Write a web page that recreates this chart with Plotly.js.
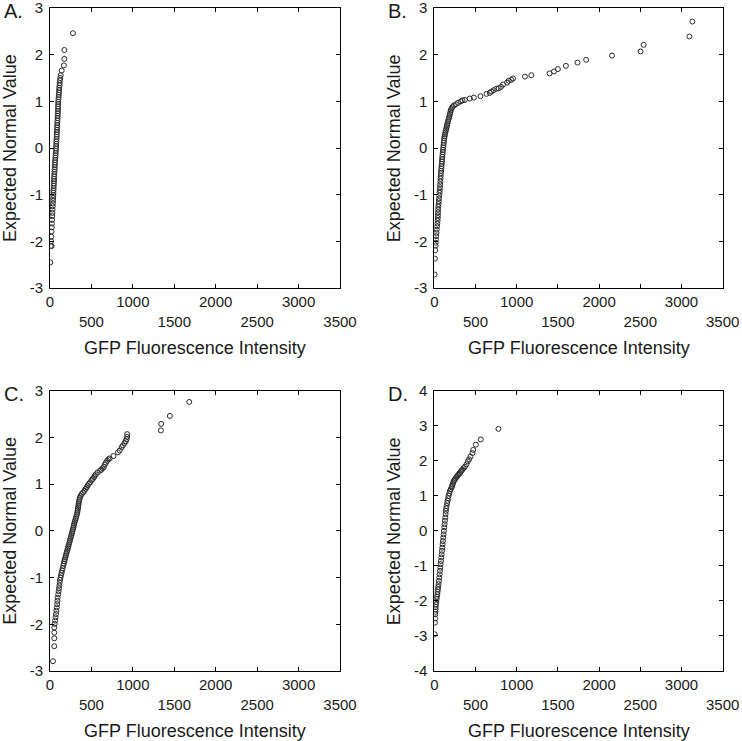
<!DOCTYPE html>
<html>
<head>
<meta charset="utf-8">
<script src="https://cdn.plot.ly/plotly-3.0.1.min.js"></script>
<style>html,body{margin:0;padding:0;background:#fff;}#chart{width:742px;height:741px;}</style>
</head>
<body>
<div id="chart"></div>
<script>
// ---- data ----
var panelLabels = ["A.", "B.", "C.", "D."];
var xTitle = "GFP Fluorescence Intensity";
var yTitle = "Expected Normal Value";
var xTickVals = [0, 500, 1000, 1500, 2000, 2500, 3000, 3500];
var xTickText = ["0", "<br>500", "1000", "<br>1500", "2000", "<br>2500", "3000", "<br>3500"];
var yTicksABC = [-3, -2, -1, 0, 1, 2, 3];
var yTicksD = [-4, -3, -2, -1, 0, 1, 2, 3, 4];

var aX = [277,173,173,167,141,129,124,120,117,115,112,110,108,106,104,102,100,99,98,97,96,94,93,92,90,89,88,86,85,83,82,80,79,77,76,74,73,71,69,67,65,63,61,59,57,56,54,53,51,50,48,47,45,44,42,41,40,38,37,35,33,31,29,27,25,23,21,19,16,13,8,20,4];
var aY = [2.46,2.1,1.91,1.77,1.66,1.56,1.5,1.45,1.39,1.34,1.29,1.24,1.19,1.14,1.09,1.04,0.99,0.94,0.89,0.84,0.79,0.74,0.69,0.64,0.59,0.54,0.49,0.44,0.39,0.34,0.29,0.24,0.19,0.14,0.09,0.04,-0.01,-0.06,-0.11,-0.16,-0.21,-0.26,-0.31,-0.36,-0.41,-0.46,-0.51,-0.56,-0.61,-0.66,-0.71,-0.76,-0.81,-0.86,-0.91,-0.96,-1.01,-1.07,-1.13,-1.19,-1.25,-1.32,-1.39,-1.46,-1.54,-1.62,-1.7,-1.79,-1.9,-2.0,-2.1,-2.1,-2.45];

var bX = [3132,3096,2540,2503,2157,1843,1738,1597,1500,1452,1399,1178,1100,955,935,903,883,834,810,782,754,721,693,673,633,560,480,431,371,342,322,290,262,238,222,210,200,195,190,184,178,172,166,160,155,150,145,140,134,129,125,121,118,115,112,109,106,103,100,97,95,93,90,88,85,83,80,78,76,74,71,69,66,64,61,58,55,52,49,47,45,44,42,40,37,34,30,26,22,20,17,15,12,8,4];
var bY = [2.71,2.39,2.21,2.07,1.98,1.89,1.83,1.76,1.69,1.64,1.6,1.56,1.53,1.49,1.46,1.44,1.4,1.36,1.31,1.28,1.27,1.24,1.21,1.18,1.16,1.11,1.08,1.06,1.03,1.02,1.0,0.97,0.94,0.91,0.88,0.85,0.81,0.77,0.73,0.69,0.65,0.61,0.57,0.53,0.49,0.45,0.41,0.37,0.33,0.29,0.25,0.21,0.16,0.11,0.06,0.01,-0.04,-0.09,-0.14,-0.19,-0.24,-0.29,-0.34,-0.39,-0.44,-0.49,-0.54,-0.6,-0.66,-0.72,-0.78,-0.84,-0.9,-0.96,-1.02,-1.08,-1.14,-1.2,-1.26,-1.32,-1.38,-1.44,-1.5,-1.56,-1.62,-1.68,-1.75,-1.82,-1.89,-1.96,-2.03,-2.09,-2.19,-2.37,-2.71];

var cX = [1681,1447,1342,1338,931,931,925,915,900,880,865,840,820,766,720,705,690,675,662,650,635,620,605,575,552,540,532,515,500,485,470,455,443,430,415,400,383,370,360,355,350,346,343,340,336,333,329,324,318,312,304,298,292,287,282,276,270,264,258,252,246,240,234,228,222,216,210,203,197,191,185,179,173,167,160,153,146,140,133,127,121,117,113,109,104,99,93,89,86,82,77,72,67,62,57,52,52,52,52,36];
var cY = [2.76,2.46,2.29,2.15,2.07,2.01,1.96,1.92,1.88,1.83,1.79,1.72,1.68,1.6,1.55,1.53,1.5,1.46,1.42,1.37,1.34,1.31,1.29,1.25,1.21,1.18,1.15,1.11,1.08,1.04,1.01,0.97,0.93,0.9,0.86,0.82,0.79,0.75,0.71,0.67,0.63,0.59,0.55,0.51,0.47,0.43,0.39,0.35,0.31,0.27,0.23,0.19,0.15,0.11,0.07,0.03,-0.01,-0.05,-0.09,-0.13,-0.17,-0.21,-0.25,-0.29,-0.33,-0.37,-0.41,-0.45,-0.49,-0.53,-0.57,-0.61,-0.65,-0.7,-0.75,-0.8,-0.85,-0.9,-0.95,-1.0,-1.05,-1.11,-1.17,-1.23,-1.29,-1.36,-1.43,-1.5,-1.57,-1.64,-1.71,-1.78,-1.85,-1.92,-1.99,-2.07,-2.18,-2.3,-2.47,-2.79];

var dX = [778,564,504,472,463,439,423,407,391,371,355,343,330,322,310,298,288,278,268,258,248,238,230,222,216,210,200,190,182,174,168,162,156,149,145,141,137,133,129,125,121,117,113,109,105,101,97,93,89,85,81,77,73,69,65,60,56,52,48,44,40,36,32,28,24,20,17,16,14,12,10,8,4];
var dY = [2.91,2.61,2.46,2.31,2.22,2.12,2.04,1.98,1.9,1.83,1.79,1.75,1.72,1.69,1.65,1.62,1.59,1.56,1.53,1.5,1.46,1.43,1.38,1.33,1.28,1.24,1.19,1.14,1.07,1.0,0.93,0.86,0.79,0.71,0.64,0.57,0.48,0.38,0.29,0.19,0.1,0.0,-0.1,-0.19,-0.29,-0.38,-0.48,-0.57,-0.67,-0.76,-0.86,-0.95,-1.05,-1.14,-1.24,-1.33,-1.43,-1.52,-1.6,-1.67,-1.74,-1.81,-1.88,-1.95,-2.03,-2.1,-2.17,-2.24,-2.31,-2.38,-2.5,-2.62,-2.95];

// ---- layout geometry (pixels in a 742x741 figure) ----
var W = 742, H = 741;
var FONT = "Liberation Sans, Arial, sans-serif";
function fx(px) { return px / W; }
function fy(py) { return 1 - py / H; }

var panels = [
  {x: aX, y: aY, left: 50,    right: 340,   top: 8,     bottom: 288, yr: [-3, 3], yt: yTicksABC},
  {x: bX, y: bY, left: 434.3, right: 722.7, top: 8,     bottom: 288, yr: [-3, 3], yt: yTicksABC},
  {x: cX, y: cY, left: 50,    right: 340,   top: 390.7, bottom: 671, yr: [-3, 3], yt: yTicksABC},
  {x: dX, y: dY, left: 434.3, right: 722.7, top: 390.7, bottom: 671, yr: [-4, 4], yt: yTicksD}
];

var traces = [];
var layout = {
  width: W, height: H,
  margin: {l: 0, r: 0, t: 0, b: 0},
  paper_bgcolor: "#fff", plot_bgcolor: "#fff",
  showlegend: false,
  font: {family: FONT, color: "#1a1a1a"},
  annotations: []
};

panels.forEach(function (p, i) {
  var n = i === 0 ? "" : String(i + 1);
  traces.push({
    type: "scatter", mode: "markers",
    x: p.x, y: p.y,
    xaxis: "x" + n, yaxis: "y" + n,
    marker: {symbol: "circle-open", size: 5, color: "#2a2a2a", line: {width: 1, color: "#2a2a2a"}},
    hoverinfo: "skip"
  });
  var common = {
    ticks: "inside", ticklen: 4, tickwidth: 1, tickcolor: "#000",
    showline: true, linecolor: "#000", linewidth: 1, mirror: "ticks",
    showgrid: false, zeroline: false, fixedrange: true,
    ticklabeloverflow: "allow",
    tickfont: {family: FONT, size: 15, color: "#1a1a1a"}
  };
  layout["xaxis" + n] = Object.assign({}, common, {
    domain: [fx(p.left), fx(p.right)],
    anchor: "y" + n,
    range: [0, 3500],
    tickmode: "array", tickvals: xTickVals, ticktext: xTickText
  });
  layout["yaxis" + n] = Object.assign({}, common, {
    domain: [fy(p.bottom), fy(p.top)],
    anchor: "x" + n,
    range: p.yr,
    ticklabelstandoff: 3,
    tickmode: "array", tickvals: p.yt, ticktext: p.yt.map(String)
  });
  // panel label
  layout.annotations.push({
    xref: "paper", yref: "paper", x: fx(p.left - 48), y: fy(p.top + 3),
    xanchor: "left", yanchor: "middle", showarrow: false,
    text: panelLabels[i], font: {family: FONT, size: 20, color: "#1a1a1a"}
  });
  // x axis title
  layout.annotations.push({
    xref: "paper", yref: "paper", x: fx((p.left + p.right) / 2), y: fy(p.bottom + 60),
    xanchor: "center", yanchor: "middle", showarrow: false,
    text: xTitle, font: {family: FONT, size: 18, color: "#1a1a1a"}
  });
  // y axis title
  layout.annotations.push({
    xref: "paper", yref: "paper", x: fx(p.left - 40), y: fy((p.top + p.bottom) / 2),
    xanchor: "center", yanchor: "middle", showarrow: false, textangle: -90,
    text: yTitle, font: {family: FONT, size: 18, color: "#1a1a1a"}
  });
});

Plotly.newPlot("chart", traces, layout, {staticPlot: true, displayModeBar: false});
</script>
</body>
</html>
